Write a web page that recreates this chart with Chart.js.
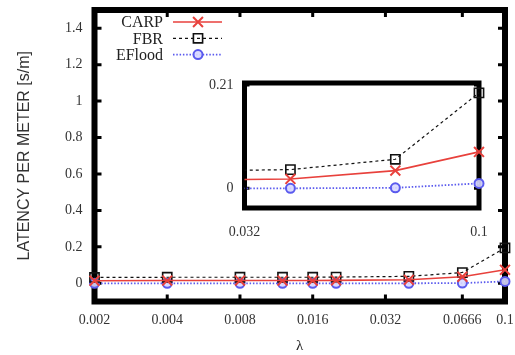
<!DOCTYPE html>
<html>
<head>
<meta charset="utf-8">
<script src="https://cdn.jsdelivr.net/npm/chart.js@4/dist/chart.umd.min.js"></script>
<style>
  html, body { margin: 0; padding: 0; background: #fff; }
  #wrap { position: relative; width: 515px; height: 355px; overflow: hidden; }
  #main { position: absolute; left: 0; top: 0; }
  #inset { position: absolute; left: 200px; top: 70px; }
</style>
</head>
<body>
<div id="wrap">
  <canvas id="main" width="515" height="355"></canvas>
  <canvas id="inset" width="295" height="175"></canvas>
</div>
<script>
// Arrival rate (lambda) samples and latency per meter [s/m] for each protocol
const lambdas = [0.002, 0.004, 0.008, 0.012, 0.016, 0.02, 0.04, 0.0666, 0.1];
const carp    = [0.014, 0.015, 0.015, 0.015, 0.015, 0.016, 0.019, 0.036, 0.074];
const fbr     = [0.032, 0.033, 0.033, 0.033, 0.033, 0.034, 0.038, 0.059, 0.194];
const eflood  = [0.000, 0.000, 0.000, 0.000, 0.000, 0.000, 0.000, 0.001, 0.010];

const xTicks      = [0.002, 0.004, 0.008, 0.016, 0.032, 0.0666, 0.1];
const yTicks      = [0, 0.2, 0.4, 0.6, 0.8, 1, 1.2, 1.4];
const insetXTicks = [0.032, 0.1];
const insetYTicks = [0, 0.21];

const SERIF = '"Liberation Serif", "DejaVu Serif", serif';
const SANS  = '"Liberation Sans", Arial, sans-serif';
const RED = '#e8413c', BLUE = '#5a5aee', BLACK = '#111';

const toPoints = ys => lambdas.map((x, i) => ({ x, y: ys[i] }));

function makeDatasets(clip) {
  return [
    { label: 'CARP', data: toPoints(carp), borderColor: RED, borderWidth: 1.6,
      pointStyle: 'crossRot', pointRadius: 7, pointBorderWidth: 2,
      pointBackgroundColor: RED, pointBorderColor: RED, clip },
    { label: 'FBR', data: toPoints(fbr), borderColor: BLACK, borderWidth: 1.2, borderDash: [3, 3],
      pointStyle: 'rect', pointRadius: 6.5, pointBorderWidth: 1.6,
      pointBackgroundColor: 'rgba(255,255,255,0)', pointBorderColor: BLACK, clip },
    { label: 'EFlood', data: toPoints(eflood), borderColor: BLUE, borderWidth: 1.8, borderDash: [1.5, 1.8],
      pointStyle: 'circle', pointRadius: 4.5, pointBorderWidth: 2,
      pointBackgroundColor: 'rgba(215,215,255,0.9)', pointBorderColor: BLUE, clip }
  ];
}

// Fix a scale's thickness and drop the extra room the library reserves for edge labels
function fixSize(prop, value) {
  return s => {
    s[prop] = value;
    s.paddingTop = 0; s.paddingBottom = 0; s.paddingLeft = 0; s.paddingRight = 0;
  };
}

// Heavy frame around the plot area plus short inward tick marks on all four sides
function framePlugin(frameWidth, tickLen) {
  return {
    id: 'frame',
    beforeDatasetsDraw(chart) {
      const { ctx, chartArea: a, scales: { x, y } } = chart;
      ctx.save();
      ctx.strokeStyle = '#000';
      ctx.lineWidth = frameWidth;
      ctx.strokeRect(a.left, a.top, a.right - a.left, a.bottom - a.top);
      ctx.lineWidth = 3;
      ctx.beginPath();
      x.ticks.forEach(t => {
        const px = x.getPixelForValue(t.value);
        ctx.moveTo(px, a.bottom); ctx.lineTo(px, a.bottom - tickLen);
        ctx.moveTo(px, a.top);    ctx.lineTo(px, a.top + tickLen);
      });
      y.ticks.forEach(t => {
        const py = y.getPixelForValue(t.value);
        ctx.moveTo(a.left, py);  ctx.lineTo(a.left + tickLen, py);
        ctx.moveTo(a.right, py); ctx.lineTo(a.right - tickLen, py);
      });
      ctx.stroke();
      ctx.restore();
    }
  };
}

// Key in the upper left: right-aligned names followed by line and marker samples
const keyPlugin = {
  id: 'key',
  afterDraw(chart) {
    const ctx = chart.ctx;
    chart.data.datasets.forEach((ds, i) => {
      const yy = 22 + i * 16.3;
      ctx.save();
      ctx.font = '16px ' + SERIF;
      ctx.fillStyle = '#222';
      ctx.textAlign = 'right';
      ctx.textBaseline = 'middle';
      ctx.fillText(ds.label, 163, yy + 1);
      ctx.strokeStyle = ds.borderColor;
      ctx.lineWidth = ds.borderWidth;
      ctx.setLineDash(ds.borderDash || []);
      ctx.beginPath(); ctx.moveTo(173, yy); ctx.lineTo(222, yy); ctx.stroke();
      ctx.setLineDash([]);
      ctx.fillStyle = ds.pointBackgroundColor;
      ctx.strokeStyle = ds.pointBorderColor;
      ctx.lineWidth = ds.pointBorderWidth;
      Chart.helpers.drawPoint(ctx, { pointStyle: ds.pointStyle, radius: ds.pointRadius,
        rotation: 0, borderWidth: ds.pointBorderWidth }, 198, yy);
      ctx.restore();
    });
  }
};

const tickFont = { family: SERIF, size: 14 };

new Chart(document.getElementById('main'), {
  type: 'line',
  data: { datasets: makeDatasets(8) },
  options: {
    responsive: false, animation: false, devicePixelRatio: 1,
    layout: { padding: { top: 10, right: 10, left: 0, bottom: 0 } },
    plugins: { legend: { display: false }, tooltip: { enabled: false } },
    scales: {
      x: {
        type: 'logarithmic', min: 0.002, max: 0.1,
        afterBuildTicks: s => { s.ticks = xTicks.map(v => ({ value: v })); },
        afterFit: fixSize('height', 53.5),
        grid: { display: false, drawTicks: false },
        border: { display: false },
        ticks: { font: tickFont, color: '#333', padding: 10, maxRotation: 0, autoSkip: false,
                 callback: v => String(v) },
        title: { display: true, text: 'λ', font: { family: SERIF, size: 15 }, color: '#222',
                 padding: { top: 0, bottom: 0 } }
      },
      y: {
        min: -0.1, max: 1.5,
        afterBuildTicks: s => { s.ticks = yTicks.map(v => ({ value: v })); },
        afterFit: fixSize('width', 94.5),
        grid: { display: false, drawTicks: false },
        border: { display: false },
        ticks: { font: tickFont, color: '#333', padding: 12, callback: v => String(v) },
        title: { display: true, text: 'LATENCY PER METER [s/m]', font: { family: SANS, size: 16 },
                 color: '#333', padding: { top: 15, bottom: 0 } }
      }
    }
  },
  plugins: [framePlugin(6, 7), keyPlugin]
});

new Chart(document.getElementById('inset'), {
  type: 'line',
  data: { datasets: makeDatasets({ left: 0, right: 8, top: 8, bottom: 8 }) },
  options: {
    responsive: false, animation: false, devicePixelRatio: 1,
    layout: { padding: { top: 13, right: 16, left: 0, bottom: 0 } },
    plugins: { legend: { display: false }, tooltip: { enabled: false } },
    scales: {
      x: {
        type: 'logarithmic', min: 0.032, max: 0.1,
        afterBuildTicks: s => { s.ticks = insetXTicks.map(v => ({ value: v })); },
        afterFit: fixSize('height', 37),
        grid: { display: false, drawTicks: false },
        border: { display: false },
        ticks: { font: tickFont, color: '#333', padding: 16, maxRotation: 0, autoSkip: false,
                 callback: v => String(v) }
      },
      y: {
        min: -0.04, max: 0.214,
        afterBuildTicks: s => { s.ticks = insetYTicks.map(v => ({ value: v })); },
        afterFit: fixSize('width', 44.5),
        grid: { display: false, drawTicks: false },
        border: { display: false },
        ticks: { font: tickFont, color: '#333', padding: 11, callback: v => String(v) }
      }
    }
  },
  plugins: [framePlugin(5, 5)]
});
</script>
</body>
</html>
